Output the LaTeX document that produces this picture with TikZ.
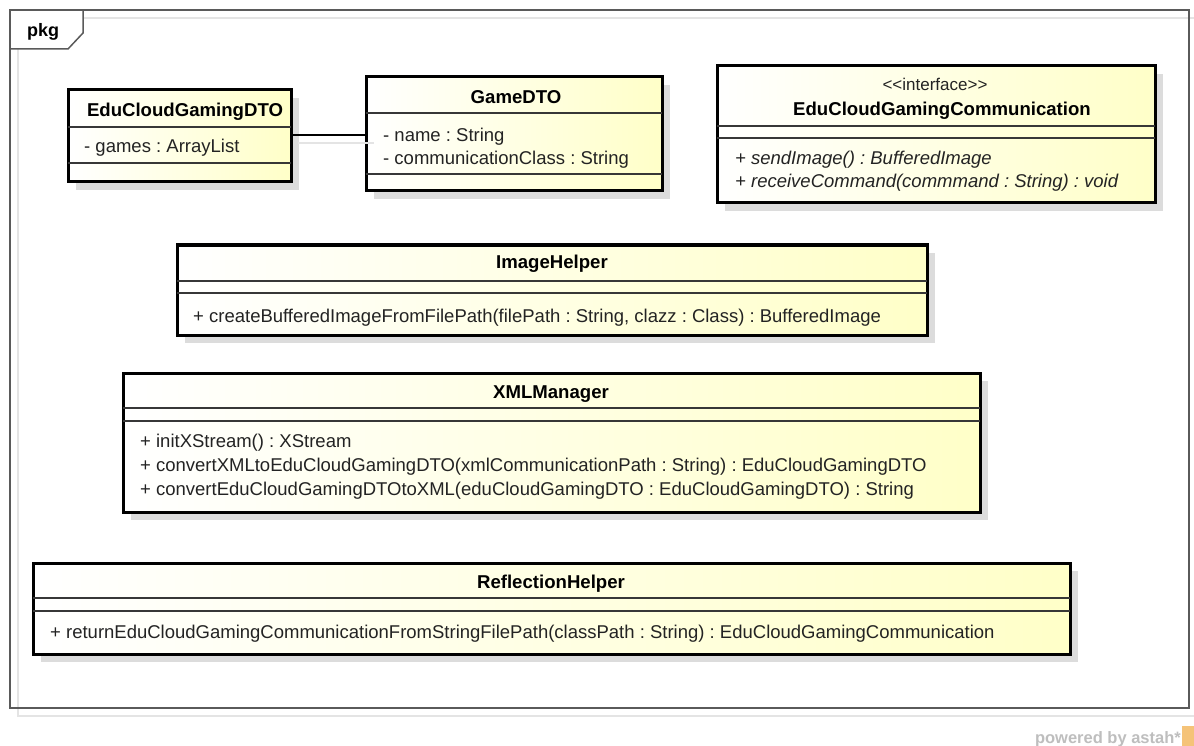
\documentclass[tikz,border=0pt]{standalone}
\usepackage{fontspec}
\setmainfont{Liberation Sans}
\usetikzlibrary{shadows}
\definecolor{umlyellow}{RGB}{255,255,200}
\definecolor{shadowgray}{RGB}{220,220,220}
\definecolor{framegray}{RGB}{90,90,90}
\definecolor{frameshadow}{RGB}{228,228,228}
\definecolor{txtgray}{RGB}{35,35,35}
\definecolor{sepgray}{RGB}{55,55,55}
\definecolor{astahgray}{RGB}{190,190,190}
\definecolor{astahorange}{RGB}{245,195,120}
\begin{document}
\frenchspacing
\begin{tikzpicture}[x=1pt,y=-1pt,
  umlbox/.style={draw=black, line width=3pt, left color=white, right color=umlyellow,
    inner sep=0pt, outer sep=0pt, anchor=north west,
    drop shadow={shadow xshift=8pt, shadow yshift=-8pt, fill=shadowgray, opacity=1}},
  sepline/.style={draw=sepgray, line width=1.4pt},
  titletext/.style={font=\frenchspacing\bfseries\fontsize{18.6}{22}\selectfont, text=black, inner sep=0pt, anchor=base},
  stereotext/.style={font=\frenchspacing\fontsize{17}{22}\selectfont, text=txtgray, inner sep=0pt, anchor=base},
  membertext/.style={font=\frenchspacing\fontsize{18.5}{22}\selectfont, text=txtgray, inner sep=0pt, anchor=base west},
  abstracttext/.style={font=\frenchspacing\itshape\fontsize{18.5}{22}\selectfont, text=txtgray, inner sep=0pt, anchor=base west},
  assoc/.style={draw=black, line width=1.4pt},
  assocshadow/.style={draw=frameshadow, line width=1.4pt}
]
\useasboundingbox (0,0) rectangle (1194,746);
\fill[white] (0,0) rectangle (1194,746);

% frame with its shadow and tab
\draw[frameshadow, line width=1.5pt] (18,18) rectangle (1199,716);
\fill[white] (11,11) -- (83,11) -- (83,33) -- (68,49) -- (11,49) -- cycle;
\draw[framegray, line width=1.5pt] (10,10) rectangle (1189,708);
\draw[framegray, line width=1.5pt] (10,49) -- (68,49) -- (83,33) -- (83,10);
\node[font=\bfseries\fontsize{18}{22}\selectfont, inner sep=0pt, anchor=base west] (pkg) at (27,37) {pkg};

% EduCloudGamingDTO
\node[umlbox, minimum width=223pt, minimum height=92pt] (dto) at (68,90) {};
\draw[sepline] ([yshift=-37pt]dto.north west) -- ([yshift=-37pt]dto.north east);
\draw[sepline] ([yshift=-73pt]dto.north west) -- ([yshift=-73pt]dto.north east);
\node[titletext] (dtoname) at (185,117) {EduCloudGamingDTO};
\node[membertext] (dtoattr) at (84,153) {- games : ArrayList};

% GameDTO
\node[umlbox, minimum width=296pt, minimum height=114pt] (game) at (366,77) {};
\draw[sepline] ([yshift=-36pt]game.north west) -- ([yshift=-36pt]game.north east);
\draw[sepline] ([yshift=-97pt]game.north west) -- ([yshift=-97pt]game.north east);
\node[titletext] (gamename) at (516,104) {GameDTO};
\node[membertext] (gameattra) at (383,142) {- name : String};
\node[membertext] (gameattrb) at (383,165) {- communicationClass : String};

% association
\coordinate (dtoend) at ([yshift=-45pt]dto.north east);
\coordinate (gameend) at (dtoend -| game.west);
\draw[assocshadow] ([xshift=7pt,yshift=-8pt]dtoend) -- ([xshift=8pt,yshift=-8pt]gameend);
\draw[assoc] (dtoend) -- (gameend);

% EduCloudGamingCommunication
\node[umlbox, minimum width=438pt, minimum height=137pt] (comm) at (717,66) {};
\draw[sepline] ([yshift=-60pt]comm.north west) -- ([yshift=-60pt]comm.north east);
\draw[sepline] ([yshift=-72pt]comm.north west) -- ([yshift=-72pt]comm.north east);
\node[stereotext] (commstereo) at (935,91) {{<}{<}interface{>}{>}};
\node[titletext] (commname) at (942,116) {EduCloudGamingCommunication};
\node[abstracttext] (commopa) at (735,165) {+ sendImage() : BufferedImage};
\node[abstracttext] (commopb) at (735,188) {+ receiveCommand(commmand : String) : void};

% ImageHelper
\node[umlbox, minimum width=750pt, minimum height=90pt] (img) at (177,245) {};
\draw[sepline] ([yshift=-36pt]img.north west) -- ([yshift=-36pt]img.north east);
\draw[sepline] ([yshift=-48pt]img.north west) -- ([yshift=-48pt]img.north east);
\node[titletext] (imgname) at (552,269) {ImageHelper};
\node[membertext] (imgop) at (193,322) {+ createBufferedImageFromFilePath(filePath : String, clazz : Class) : BufferedImage};

% XMLManager
\node[umlbox, minimum width=857pt, minimum height=139pt] (xml) at (123,373) {};
\draw[sepline] ([yshift=-35pt]xml.north west) -- ([yshift=-35pt]xml.north east);
\draw[sepline] ([yshift=-48pt]xml.north west) -- ([yshift=-48pt]xml.north east);
\node[titletext] (xmlname) at (551,398) {XMLManager};
\node[membertext] (xmlopa) at (140,447) {+ initXStream() : XStream};
\node[membertext] (xmlopb) at (140,471) {+ convertXMLtoEduCloudGamingDTO(xmlCommunicationPath : String) : EduCloudGamingDTO};
\node[membertext] (xmlopc) at (140,495) {+ convertEduCloudGamingDTOtoXML(eduCloudGamingDTO : EduCloudGamingDTO) : String};

% ReflectionHelper
\node[umlbox, minimum width=1037pt, minimum height=91pt] (refl) at (33,563) {};
\draw[sepline] ([yshift=-35pt]refl.north west) -- ([yshift=-35pt]refl.north east);
\draw[sepline] ([yshift=-48pt]refl.north west) -- ([yshift=-48pt]refl.north east);
\node[titletext] (reflname) at (551,588) {ReflectionHelper};
\node[membertext] (reflop) at (50,638) {+ returnEduCloudGamingCommunicationFromStringFilePath(classPath : String) : EduCloudGamingCommunication};

% powered by astah
\node[font=\bfseries\fontsize{16.5}{18}\selectfont, text=astahgray, inner sep=0pt, anchor=base east] (astah) at (1181,743) {powered by astah*};
\fill[astahorange] (1182,726) rectangle (1194,746);
\end{tikzpicture}
\end{document}
